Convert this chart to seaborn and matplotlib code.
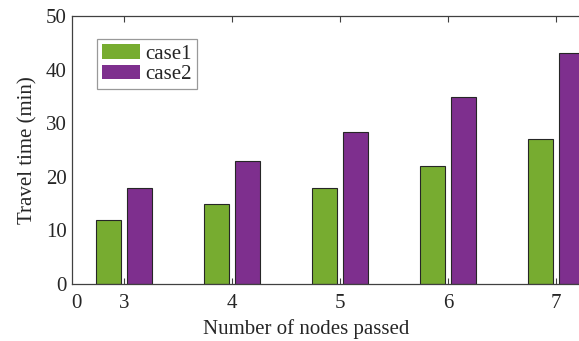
import matplotlib
matplotlib.use("Agg")
import matplotlib.pyplot as plt
import seaborn as sns
import pandas as pd

nodes = ["3", "4", "5", "6", "7"]
case1 = [12, 15, 18, 22, 27]
case2 = [18, 22.9, 28.4, 34.9, 43.1]
series_names = ["case1", "case2"]
colors = ["#77AC30", "#7E2F8E"]
y_ticks = [0, 10, 20, 30, 40, 50]

df = pd.DataFrame({
    "nodes": nodes * 2,
    "time": case1 + case2,
    "case": [series_names[0]] * len(nodes) + [series_names[1]] * len(nodes),
})

sns.set_style("white")
plt.rcParams["font.family"] = ["Liberation Serif", "DejaVu Serif"]

FS = 15
fig = plt.figure(figsize=(5.79, 3.41), dpi=100)
ax = fig.add_axes([72 / 579, 57 / 341, 538 / 579, 268 / 341])

sns.barplot(data=df, x="nodes", y="time", hue="case", order=nodes,
            hue_order=series_names, palette=colors, saturation=1,
            width=0.57, gap=0.2,
            edgecolor="#262626", linewidth=0.8, ax=ax, legend=True)

ax.set_ylim(0, 50)
ax.set_xlim(-0.48, 4.5)
ax.set_yticks(y_ticks)
ax.set_yticklabels([str(v) for v in y_ticks], fontsize=FS)
ax.set_xticks([-0.435, 0, 1, 2, 3, 4])
ax.set_xticklabels(["0"] + nodes, fontsize=FS)
ax.tick_params(axis="x", direction="in", top=True, bottom=True, length=4,
               color="#404040", pad=7)
ax.tick_params(axis="y", direction="in", left=True, length=0, pad=4)
ax.xaxis.get_major_ticks()[0].tick1line.set_visible(False)
ax.xaxis.get_major_ticks()[0].tick2line.set_visible(False)

for s in ["left", "bottom", "top"]:
    ax.spines[s].set_color("#404040")
    ax.spines[s].set_linewidth(0.9)
ax.spines["right"].set_visible(False)

ax.set_xlabel("Number of nodes passed", fontsize=FS)
ax.set_ylabel("Travel time (min)", fontsize=FS)
ax.xaxis.set_label_coords((306 - 72) / 538, -0.13)
ax.yaxis.set_label_coords(-0.064, 0.5)

leg = ax.legend(loc="upper left", bbox_to_anchor=((97 - 72) / 538, (284 - 39) / 268),
                fontsize=FS, frameon=True, fancybox=False, edgecolor="#808080",
                handlelength=1.8, handleheight=0.68, handletextpad=0.25,
                borderpad=0.25, labelspacing=0.05, borderaxespad=0)
leg.get_frame().set_linewidth(0.9)
for h in leg.legend_handles:
    h.set_edgecolor("none")

fig.savefig("out.png", dpi=100)
